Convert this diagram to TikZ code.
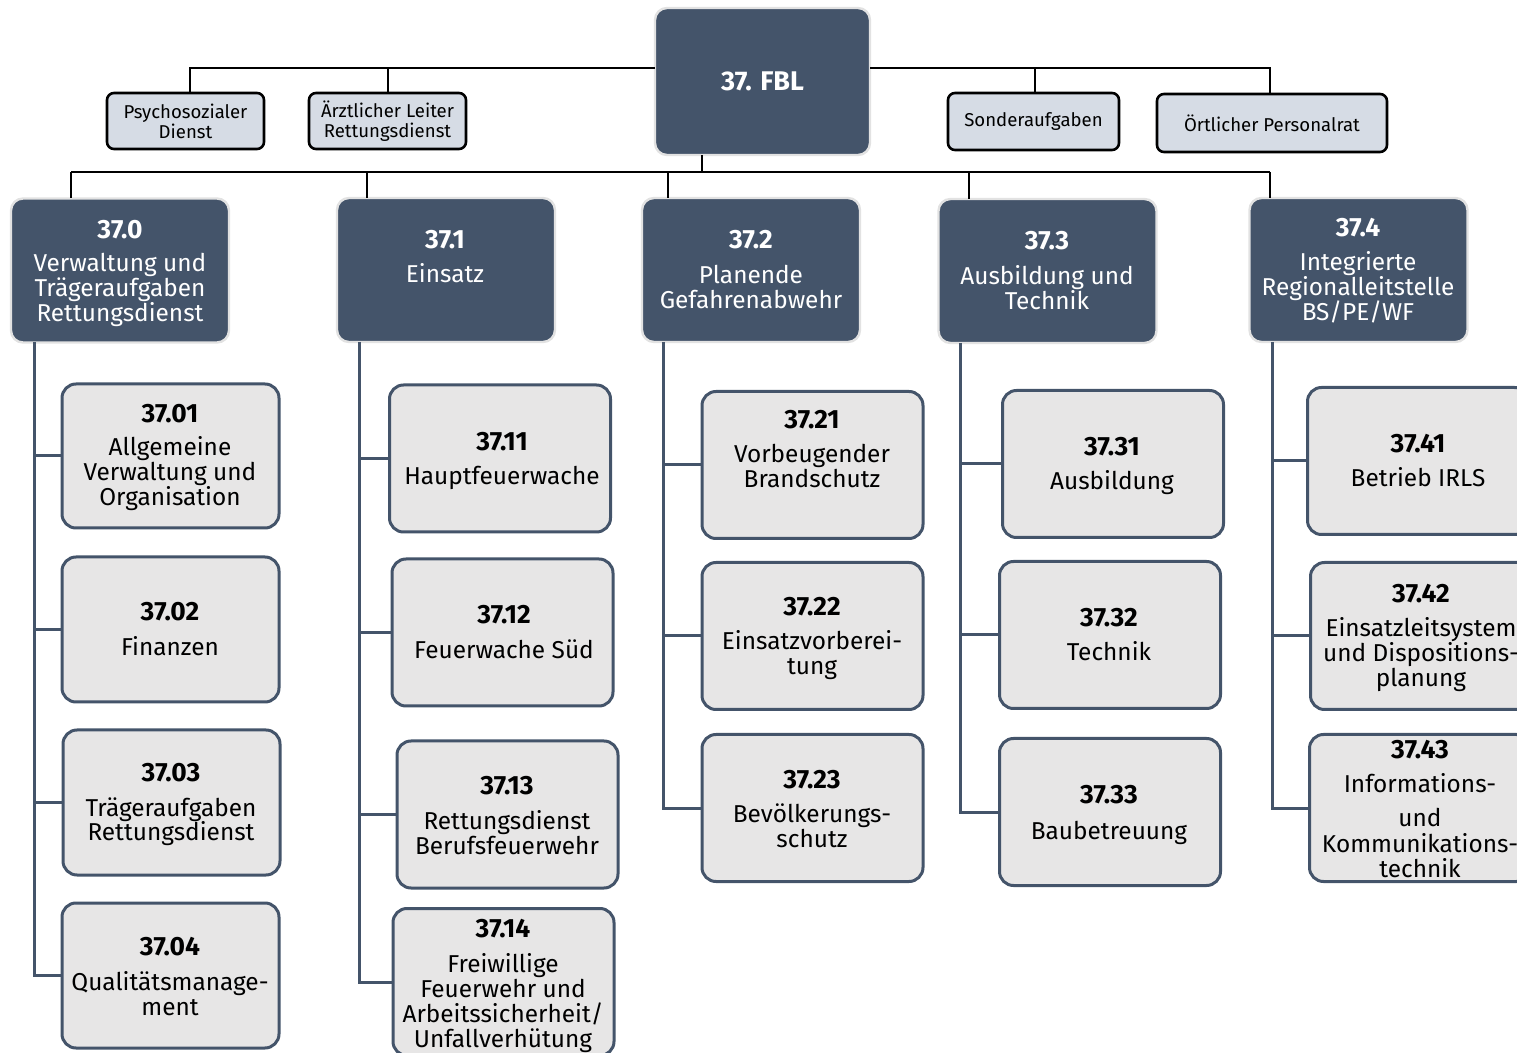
\documentclass[tikz,border=0pt]{standalone}
\usepackage{fontspec}
\setmainfont{Fira Sans}
\definecolor{slate}{HTML}{44546A}
\definecolor{childfill}{HTML}{E7E6E6}
\definecolor{topfill}{HTML}{D6DCE5}
\definecolor{headline}{HTML}{E2E2E2}
\newcommand\nbr[1]{{\fontsize{13.2}{12.5}\selectfont\bfseries #1}}
\begin{document}
\begin{tikzpicture}[x=0.5pt,y=-0.5pt,
  topbox/.style={draw=black,fill=topfill,line width=1.3pt,rounded corners=3.5pt,inner sep=0pt,outer sep=0pt,align=center,font=\fontsize{9.3}{10}\selectfont},
  headbox/.style={draw=headline,fill=slate,line width=1.2pt,rounded corners=6pt,inner sep=0pt,outer sep=0pt,minimum width=109pt,minimum height=72pt},
  childbox/.style={draw=slate,fill=childfill,line width=1.5pt,rounded corners=7pt,inner sep=0pt,outer sep=0pt,minimum width=110.5pt,minimum height=73.5pt},
  txt/.style={anchor=base,align=center,inner sep=0pt,font=\fontsize{12.2}{12.5}\selectfont},
  wtxt/.style={txt,text=white},
  blk/.style={draw=black,line width=1pt},
  sl/.style={draw=slate,line width=1.5pt},
]
\useasboundingbox (0,0) rectangle (1517,1053);
\clip (0,0) rectangle (1517,1053);

% top
\node[headbox,minimum width=107.5pt,minimum height=73.5pt,text=white,font=\fontsize{13.5}{15}\selectfont\bfseries] (fbl) at (762.5,81.5) {37. FBL};
\node[topbox,minimum width=78.5pt,minimum height=28pt] (psy) at (185.5,121) {Psychosozialer\\Dienst};
\node[topbox,minimum width=78.5pt,minimum height=28pt] (arzt) at (387.5,121) {Ärztlicher Leiter\\Rettungsdienst};
\node[topbox,minimum width=85.5pt,minimum height=28.5pt] (sonder) at (1033.5,121.5) {Sonderaufgaben};
\node[topbox,minimum width=115pt,minimum height=29pt] (oert) at (1272,123) {Örtlicher Personalrat};

\coordinate (tl) at (190,68);
\coordinate (ta) at (388,68);
\coordinate (ts) at (1035,68);
\coordinate (tr) at (1270,68);
\draw[blk] (fbl.west |- tl) -- (tl) -- (tl |- psy.north);
\draw[blk] (ta) -- (ta |- arzt.north);
\draw[blk] (fbl.east |- tr) -- (tr) -- (tr |- oert.north);
\draw[blk] (ts) -- (ts |- sonder.north);

% level 1
\node[headbox] (l0) at (120,270.5) {};
\node[headbox] (l1) at (446,270) {};
\node[headbox] (l2) at (751,270) {};
\node[headbox] (l3) at (1047.5,271) {};
\node[headbox] (l4) at (1358.5,270) {};
\node[wtxt] (l0t) at (120,322) {\nbr{37.0}\\[4pt]Verwaltung und\\Trägeraufgaben\\Rettungsdienst};
\node[wtxt] (l1t) at (445,283) {\nbr{37.1}\\[4.5pt]Einsatz};
\node[wtxt] (l2t) at (751,309) {\nbr{37.2}\\[5pt]Planende\\Gefahrenabwehr};
\node[wtxt] (l3t) at (1047,310) {\nbr{37.3}\\[5pt]Ausbildung und\\Technik};
\node[wtxt] (l4t) at (1358,321) {\nbr{37.4}\\[4.5pt]Integrierte\\Regionalleitstelle\\BS/PE/WF};

\coordinate (hub) at (702,172);
\coordinate (b0) at (71,172);
\coordinate (b1) at (367,172);
\coordinate (b2) at (668,172);
\coordinate (b3) at (969,172);
\coordinate (b4) at (1270,172);
\draw[blk] (fbl.south -| hub) -- (hub);
\draw[blk] (b0) -- (b4);
\foreach \i in {0,...,4} {\draw[blk] (b\i) -- (b\i |- l\i.north);}

% children column 0
\node[childbox,minimum width=108.5pt,minimum height=72pt] (c01) at (170.5,456) {};
\node[childbox,minimum width=108.5pt,minimum height=72.5pt] (c02) at (170.5,629.5) {};
\node[childbox,minimum width=108.5pt,minimum height=72.5pt] (c03) at (171.5,802.5) {};
\node[childbox,minimum width=108.5pt,minimum height=72.5pt] (c04) at (170.5,975.5) {};
\node[txt] (c01t) at (170,506) {\nbr{37.01}\\[4pt]Allgemeine\\Verwaltung und\\Organisation};
\node[txt] (c02t) at (170,656) {\nbr{37.02}\\[5pt]Finanzen};
\node[txt] (c03t) at (171,841) {\nbr{37.03}\\[4.5pt]Trägeraufgaben\\Rettungsdienst};
\node[txt] (c04t) at (170,1015) {\nbr{37.04}\\[5pt]Qualitätsmanage-\\ment};

% column 1
\node[childbox] (c11) at (500,458.5) {};
\node[childbox] (c12) at (502.5,632.5) {};
\node[childbox] (c13) at (507.5,814.5) {};
\node[childbox] (c14) at (503.5,982) {};
\node[txt] (c11t) at (502,485) {\nbr{37.11}\\[4.5pt]Hauptfeuerwache};
\node[txt] (c12t) at (504,659) {\nbr{37.12}\\[5pt]Feuerwache Süd};
\node[txt] (c13t) at (507,854) {\nbr{37.13}\\[5pt]Rettungsdienst\\Berufsfeuerwehr};
\node[txt] (c14t) at (503,1047) {\nbr{37.14}\\[5pt]Freiwillige\\Feuerwehr und\\Arbeitssicherheit/\\Unfallverhütung};

% column 2
\node[childbox] (c21) at (812.5,465) {};
\node[childbox] (c22) at (812.5,636) {};
\node[childbox] (c23) at (812.5,808) {};
\node[txt] (c21t) at (812,488) {\nbr{37.21}\\[4.5pt]Vorbeugender\\Brandschutz};
\node[txt] (c22t) at (812,675) {\nbr{37.22}\\[4.5pt]Einsatzvorberei-\\tung};
\node[txt] (c23t) at (812,847) {\nbr{37.23}\\[4.5pt]Bevölkerungs-\\schutz};

% column 3
\node[childbox] (c31) at (1113,464) {};
\node[childbox] (c32) at (1110,635) {};
\node[childbox] (c33) at (1110,812) {};
\node[txt] (c31t) at (1112,490) {\nbr{37.31}\\[4.5pt]Ausbildung};
\node[txt] (c32t) at (1109,661) {\nbr{37.32}\\[4.5pt]Technik};
\node[txt] (c33t) at (1109,839) {\nbr{37.33}\\[5pt]Baubetreuung};

% column 4
\node[childbox] (c41) at (1418,461) {};
\node[childbox] (c42) at (1421,636) {};
\node[childbox] (c43) at (1420,808) {};
\node[txt] (c41t) at (1418,487) {\nbr{37.41}\\[4.5pt]Betrieb IRLS};
\node[txt] (c42t) at (1421,687) {\nbr{37.42}\\[5pt]Einsatzleitsystem\\und Dispositions-\\planung};
\node[txt] (c43t) at (1420,877) {\nbr{37.43}\\[4.5pt]Informations-\\[5pt]und\\Kommunikations-\\technik};

% trunks
\coordinate (t0) at (34,0);
\coordinate (t1) at (359,0);
\coordinate (t2) at (663,0);
\coordinate (t3) at (960,0);
\coordinate (t4) at (1272,0);
\draw[sl] (l0.south -| t0) |- (c04.west);
\foreach \c in {c01,c02,c03} {\draw[sl] (t0 |- \c.west) -- (\c.west);}
\draw[sl] (l1.south -| t1) |- (c14.west);
\foreach \c in {c11,c12,c13} {\draw[sl] (t1 |- \c.west) -- (\c.west);}
\draw[sl] (l2.south -| t2) |- (c23.west);
\foreach \c in {c21,c22} {\draw[sl] (t2 |- \c.west) -- (\c.west);}
\draw[sl] (l3.south -| t3) |- (c33.west);
\foreach \c in {c31,c32} {\draw[sl] (t3 |- \c.west) -- (\c.west);}
\draw[sl] (l4.south -| t4) |- (c43.west);
\foreach \c in {c41,c42} {\draw[sl] (t4 |- \c.west) -- (\c.west);}
\end{tikzpicture}
\end{document}
